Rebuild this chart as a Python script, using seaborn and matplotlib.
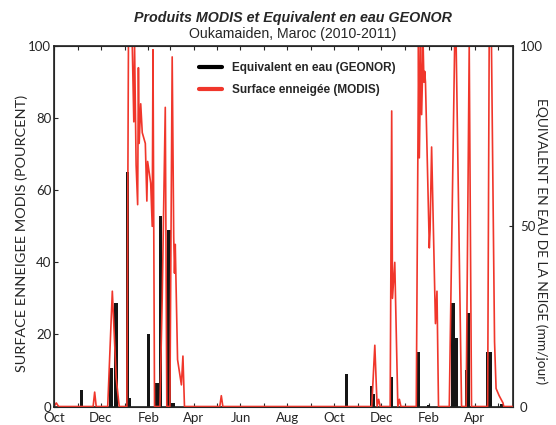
import pandas as pd
import matplotlib
matplotlib.use('Agg')
import matplotlib.pyplot as plt
import matplotlib.dates as mdates
from matplotlib.lines import Line2D
import seaborn as sns

# MODIS snow cover (%)
modis_dates = ['2010-10-01', '2010-10-04', '2010-10-07',
               '2010-11-21', '2010-11-23', '2010-11-25',
               '2010-12-10', '2010-12-16', '2010-12-21', '2010-12-25',
               '2011-01-04', '2011-01-06', '2011-01-11', '2011-01-13', '2011-01-14',
               '2011-01-16', '2011-01-18', '2011-01-19', '2011-01-20', '2011-01-22',
               '2011-01-24', '2011-01-28', '2011-01-30', '2011-01-31', '2011-02-02',
               '2011-02-04', '2011-02-06', '2011-02-07', '2011-02-09',
               '2011-02-16', '2011-02-19', '2011-02-23', '2011-02-25',
               '2011-03-01', '2011-03-04', '2011-03-06', '2011-03-07', '2011-03-08',
               '2011-03-11', '2011-03-16', '2011-03-18', '2011-03-20',
               '2011-05-05', '2011-05-07', '2011-05-09',
               '2011-11-19', '2011-11-23', '2011-11-26', '2011-11-28', '2011-11-30',
               '2011-12-13', '2011-12-15', '2011-12-16', '2011-12-19', '2011-12-23',
               '2011-12-25', '2011-12-27',
               '2012-01-16', '2012-01-19', '2012-01-20', '2012-01-22', '2012-01-23',
               '2012-01-25', '2012-01-26', '2012-01-27', '2012-01-28', '2012-02-02',
               '2012-02-03', '2012-02-05', '2012-02-10', '2012-02-12', '2012-02-14',
               '2012-02-28', '2012-03-06', '2012-03-08', '2012-03-15',
               '2012-03-21', '2012-03-25', '2012-03-28',
               '2012-04-18', '2012-04-20', '2012-04-23', '2012-04-27', '2012-04-29',
               '2012-05-03', '2012-05-08', '2012-05-09', '2012-05-21']
modis_pct = [0, 1, 0,
             0, 4, 0,
             0, 32, 8, 0,
             0, 100, 100, 79, 100,
             67, 56, 94, 73, 84,
             76, 73, 57, 68, 65,
             62, 50, 99, 0,
             0, 30, 83, 0,
             0, 97, 47, 37, 45,
             13, 6, 14, 0,
             0, 3, 0,
             0, 17, 0, 2, 0,
             0, 82, 30, 40, 0,
             2, 0,
             0, 100, 69, 100, 81,
             100, 90, 93, 90, 44,
             49, 72, 23, 32, 0,
             0, 100, 100, 0,
             0, 100, 0,
             0, 100, 100, 18, 5,
             3, 1, 0, 0]

# GEONOR snow water equivalent (mm/jour)
geonor_dates = ['2010-11-06', '2010-12-14', '2010-12-15', '2010-12-21', '2011-01-05',
                '2011-01-07', '2011-02-01', '2011-02-12', '2011-02-17', '2011-02-28',
                '2011-03-03', '2011-03-06',
                '2011-10-17', '2011-11-19', '2011-11-21', '2011-12-15', '2012-01-19',
                '2012-02-01', '2012-03-04', '2012-03-08', '2012-03-22', '2012-03-24',
                '2012-04-18', '2012-04-22', '2012-05-06']
geonor_mm = [4.6, 10.8, 2, 28.8, 65,
             2.5, 20, 6.5, 53, 49,
             1, 1,
             8.9, 5.6, 3.5, 8.3, 15.2,
             0.5, 28.8, 19, 10, 26,
             15.2, 15.2, 0.8]

red = '#f0362b'

sns.set_style('ticks')
plt.rcParams['font.family'] = ['Lato', 'DejaVu Sans']

fig = plt.figure(figsize=(5.56, 4.25), dpi=100)
ax = fig.add_axes([0.0971, 0.0435, 0.8255, 0.848])

ax.bar(pd.to_datetime(geonor_dates), geonor_mm, width=4.5, color='#151515',
       edgecolor='none', linewidth=0, zorder=2)
sns.lineplot(x=pd.to_datetime(modis_dates), y=modis_pct, ax=ax, color=red, lw=1.2,
             sort=False, zorder=3)

ax.set_xlim(pd.Timestamp('2010-10-01'), pd.Timestamp('2012-05-21'))
ax.set_ylim(0, 100)
ax.set_yticks([0, 20, 40, 60, 80, 100])
ax.xaxis.set_major_locator(mdates.MonthLocator(bymonth=[2, 4, 6, 8, 10, 12]))
ax.xaxis.set_minor_locator(mdates.MonthLocator())
ax.xaxis.set_major_formatter(mdates.DateFormatter('%b'))
ax.tick_params(axis='x', which='both', direction='in', top=True, length=3, width=0.8,
               labelsize=9.5, pad=4)
ax.tick_params(axis='y', direction='in', right=True, length=3, width=0.8,
               labelsize=9.5, pad=2)
for s in ax.spines.values():
    s.set_linewidth(1.2)
    s.set_color('#222222')

ax.set_xlabel('')
ax.set_ylabel('SURFACE ENNEIGEE MODIS (POURCENT)', fontsize=10.4)
ax.yaxis.set_label_coords(-0.057, 0.48)

ax2 = ax.twinx()
ax2.set_ylim(0, 100)
ax2.set_yticks([0, 50, 100])
ax2.tick_params(axis='y', direction='in', length=3, width=0.8, labelsize=9.5, pad=5)
ax2.set_ylabel('EQUIVALENT EN EAU DE LA NEIGE (mm/jour)', fontsize=9.9, rotation=270,
               va='bottom')
ax2.yaxis.set_label_coords(1.048, 0.46)

handles = [Line2D([], [], color='black', lw=3), Line2D([], [], color=red, lw=3)]
ax.legend(handles, ['Equivalent en eau (GEONOR)', 'Surface enneigée (MODIS)'],
          loc='upper left', bbox_to_anchor=(0.292, 0.985), frameon=False,
          labelspacing=0.85, handlelength=2,
          prop={'family': 'Liberation Sans', 'weight': 'bold', 'size': 8.5})

fig.text(0.527, 0.958, 'Produits MODIS et Equivalent en eau GEONOR', ha='center',
         va='center', fontsize=10.3, fontweight='bold', fontstyle='italic',
         family='Liberation Sans')
fig.text(0.527, 0.921, 'Oukamaiden, Maroc (2010-2011)', ha='center', va='center',
         fontsize=10.2, family='Liberation Sans')

fig.savefig('out.png', dpi=100)
